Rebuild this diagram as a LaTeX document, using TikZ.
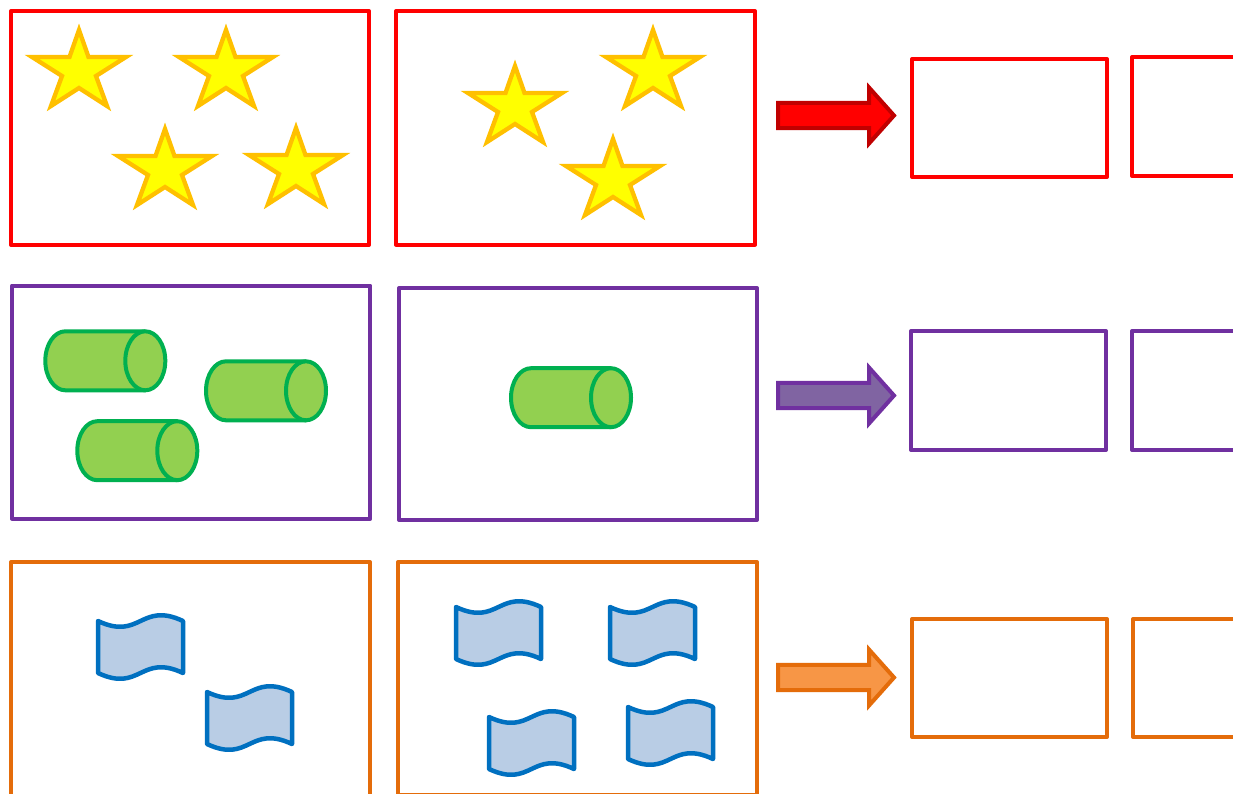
\documentclass[tikz,border=0pt]{standalone}
\definecolor{cred}{HTML}{FF0000}
\definecolor{cdarkred}{HTML}{C00000}
\definecolor{cyel}{HTML}{FFFF00}
\definecolor{cgold}{HTML}{FFC000}
\definecolor{cpurple}{HTML}{7030A0}
\definecolor{cpurplefill}{HTML}{8064A2}
\definecolor{cgreenfill}{HTML}{92D050}
\definecolor{cgreen}{HTML}{00B050}
\definecolor{corange}{HTML}{E46C0A}
\definecolor{corangefill}{HTML}{F79646}
\definecolor{cflagfill}{HTML}{B9CDE5}
\definecolor{cblue}{HTML}{0070C0}
\tikzset{
  panel/.style={draw=#1, line width=4pt, line join=round, rectangle, inner sep=0pt, outer sep=0pt},
  starsty/.style={fill=cyel, draw=cgold, line width=4.3pt, line join=miter},
  cylsty/.style={fill=cgreenfill, draw=cgreen, line width=4pt, line join=round},
  flagsty/.style={fill=cflagfill, draw=cblue, line width=4.5pt, line join=round, line cap=round},
  arrowred/.style={fill=cred, draw=cdarkred, line width=4pt, line join=miter},
  arrowpurple/.style={fill=cpurplefill, draw=cpurple, line width=4pt, line join=miter},
  arroworange/.style={fill=corangefill, draw=corange, line width=4pt, line join=miter},
  starpic/.pic={\filldraw[starsty] (0,-41) -- (9.5,-14) -- (47,-14) -- (17,5) -- (28,35) -- (0,17) -- (-28,35) -- (-17,5) -- (-47,-14) -- (-9.5,-14) -- cycle;},
  cylpic/.pic={
    \filldraw[cylsty] (80,-29.5) -- (0,-29.5) .. controls (-11.05,-29.5) and (-20,-16.29) .. (-20,0) .. controls (-20,16.29) and (-11.05,29.5) .. (0,29.5) -- (80,29.5);
    \filldraw[cylsty] (80,0) ellipse [x radius=20, y radius=29.5];},
  flagpic/.pic={\filldraw[flagsty] (0,0) .. controls (42.5,20) and (42.5,-20) .. (85,0) -- (85,52) .. controls (42.5,32) and (42.5,72) .. (0,52) -- cycle;},
  fatarrow/.pic={\filldraw[#1] (0,-12.7) -- (91,-12.7) -- (91,-28) -- (116,0) -- (91,28) -- (91,12.7) -- (0,12.7) -- cycle;}
}
\begin{document}
\begin{tikzpicture}[x=1pt,y=-1pt]
\useasboundingbox (0,0) rectangle (1233,793);
\clip (0,0) rectangle (1233,793);
\fill[white] (0,0) rectangle (1233,793);

% row 1
\node[panel=cred, minimum width=358pt, minimum height=234pt] (A1) at (190,128) {};
\node[panel=cred, minimum width=359pt, minimum height=233.5pt] (A2) at (575.5,127.75) {};
\node[panel=cred, minimum width=195pt, minimum height=118pt] (A3) at (1009.5,118) {};
\node[panel=cred, minimum width=195pt, minimum height=119pt] (A4) at (1229.5,116.5) {};
\pic (s1) at (79,71) {starpic};
\pic (s2) at (226,71) {starpic};
\pic (s3) at (165,170) {starpic};
\pic (s4) at (296,169) {starpic};
\pic (s5) at (515,107) {starpic};
\pic (s6) at (653,71) {starpic};
\pic (s7) at (613,180) {starpic};
\pic (ar1) at (778,115.5) {fatarrow=arrowred};

% row 2
\node[panel=cpurple, minimum width=358.3pt, minimum height=233.2pt] (B1) at (191.2,402.1) {};
\node[panel=cpurple, minimum width=358pt, minimum height=232pt] (B2) at (578,404) {};
\node[panel=cpurple, minimum width=195pt, minimum height=119pt] (B3) at (1008.5,390.5) {};
\node[panel=cpurple, minimum width=195pt, minimum height=119pt] (B4) at (1229.5,390.5) {};
\pic (c1) at (65.3,360.8) {cylpic};
\pic (c2) at (226,390.8) {cylpic};
\pic (c3) at (97.3,450.7) {cylpic};
\pic (c4) at (531,397.7) {cylpic};
\pic (ar2) at (778,395.5) {fatarrow=arrowpurple};

% row 3
\node[panel=corange, minimum width=359pt, minimum height=235pt] (C1) at (190.5,679.5) {};
\node[panel=corange, minimum width=359pt, minimum height=232.5pt] (C2) at (577.5,678.25) {};
\node[panel=corange, minimum width=195pt, minimum height=118pt] (C3) at (1009.5,678) {};
\node[panel=corange, minimum width=195pt, minimum height=118pt] (C4) at (1230.5,678) {};
\pic (f1) at (98,621) {flagpic};
\pic (f2) at (207,692) {flagpic};
\pic (f3) at (456,607) {flagpic};
\pic (f4) at (610,607) {flagpic};
\pic (f5) at (489,717) {flagpic};
\pic (f6) at (628,707) {flagpic};
\pic (ar3) at (778,677.5) {fatarrow=arroworange};
\end{tikzpicture}
\end{document}
